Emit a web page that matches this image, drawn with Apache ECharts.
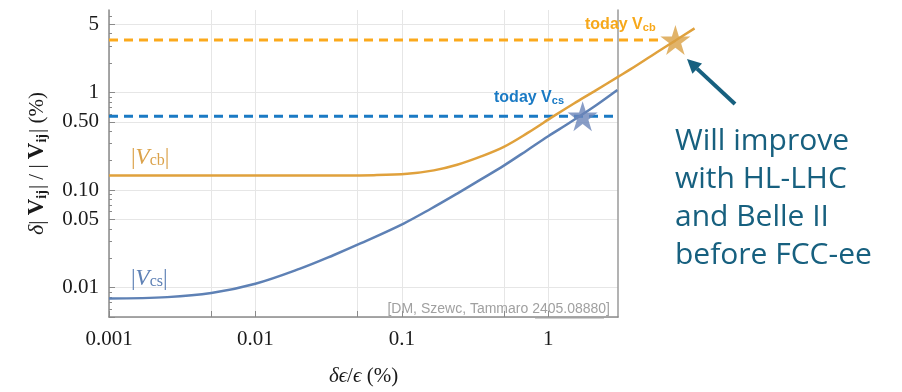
<!DOCTYPE html>
<html>
<head>
<meta charset="utf-8">
<script src="https://cdn.jsdelivr.net/npm/echarts@6/dist/echarts.min.js"></script>
<style>
html,body{margin:0;padding:0;background:#fff;}
#chart{width:902px;height:392px;}
</style>
</head>
<body>
<div id="chart"></div>
<script>
// ---- data ----
const vcbX = [0.001, 0.003, 0.01, 0.02, 0.038, 0.0644, 0.109, 0.1655, 0.239, 0.345, 0.498, 0.72, 1.09, 1.5, 2.05, 3.0, 3.66, 5.5, 7.4, 10];
const vcbY = [0.152, 0.152, 0.152, 0.152, 0.152, 0.153, 0.158, 0.171, 0.195, 0.235, 0.295, 0.405, 0.60, 0.805, 1.06, 1.49, 1.78, 2.62, 3.45, 4.58];
const vcsX = [0.001, 0.0025, 0.005, 0.01, 0.0202, 0.0341, 0.0522, 0.103, 0.157, 0.239, 0.345, 0.498, 0.72, 1.0, 1.35, 1.75, 2.2, 2.97];
const vcsY = [0.0088, 0.0091, 0.0100, 0.0124, 0.0176, 0.024, 0.0315, 0.050, 0.070, 0.100, 0.138, 0.191, 0.273, 0.377, 0.497, 0.637, 0.80, 1.1];
const todayVcbX = [0.001, 5.9];
const todayVcbY = [3.5, 3.5];
const todayVcsX = [0.001, 3.0];
const todayVcsY = [0.6, 0.6];
const starVcb = [7.4, 3.5];
const starVcs = [1.72, 0.6];
const xMajorTicks = [0.001, 0.005, 0.01, 0.05, 0.1, 0.5, 1];
const xTickLabels = [0.001, 0.01, 0.1, 1];
const yMajorTicks = [0.005, 0.01, 0.05, 0.1, 0.5, 1, 5];
const yTickLabels = [0.01, 0.05, 0.1, 0.5, 1, 5];
const yMinorTicks = [0.006, 0.007, 0.008, 0.009, 0.02, 0.03, 0.04, 0.06, 0.07, 0.08, 0.09, 0.2, 0.3, 0.4, 0.6, 0.7, 0.8, 0.9, 2, 3, 4, 6];

const pairs = (xs, ys) => xs.map((x, i) => [x, ys[i]]);

const STAR = 'path://M50,0 L61.2,34.5 L97.6,34.5 L68.2,55.9 L79.4,90.5 L50,69.1 L20.6,90.5 L31.8,55.9 L2.4,34.5 L38.8,34.5 Z';
const SERIF = '"Liberation Serif", "DejaVu Serif", serif';
const SANS = '"Liberation Sans", Arial, sans-serif';

// main frame geometry: x range [0.001, 3] in grid 0; grid 1 is a wider overlay (x up to 20) with the same scale
const GL = 109, GT = 10, GB = 69, GR = 284;
const X0 = 0.001, X1 = 3, X2 = 20;
const plotW = 902 - GL - GR;
const decade = plotW / Math.log10(X1 / X0);
const wideR = 902 - GL - decade * Math.log10(X2 / X0);

const chart = echarts.init(document.getElementById('chart'), null, {renderer: 'canvas'});

const fmtY = v => {
  const r = Number(v.toPrecision(3));
  return r >= 1 ? String(Math.round(r)) : r.toFixed(2);
};
const fmtX = v => String(Number(v.toPrecision(3)));

const option = {
  animation: false,
  backgroundColor: '#ffffff',
  grid: [
    {left: GL, right: GR, top: GT, bottom: GB, containLabel: false},
    {left: GL, right: wideR, top: GT, bottom: GB, containLabel: false}
  ],
  xAxis: [{
    gridIndex: 0, type: 'log', logBase: 10, min: X0, max: X1,
    axisLine: {show: true, onZero: false, lineStyle: {color: '#8a8a8a', width: 1.5}},
    axisTick: {show: true, inside: true, length: 6, customValues: xMajorTicks, lineStyle: {color: '#8a8a8a'}},
    axisLabel: {customValues: xTickLabels, formatter: fmtX, fontFamily: SERIF, fontSize: 21, color: '#1a1a1a', margin: 12},
    splitLine: {show: true, lineStyle: {color: '#e6e6e6', width: 1}},
    name: '{d|δϵ}{n|/}{d|ϵ}{n| (%)}',
    nameLocation: 'middle', nameGap: 49,
    nameTextStyle: {
      fontFamily: SERIF, fontSize: 21, color: '#1a1a1a',
      rich: {d: {fontFamily: SERIF, fontSize: 21, fontStyle: 'italic', color: '#1a1a1a'},
             n: {fontFamily: SERIF, fontSize: 21, color: '#1a1a1a'}}
    }
  }, {
    gridIndex: 1, type: 'log', logBase: 10, min: X0, max: X2, show: false
  }],
  yAxis: [{
    gridIndex: 0, type: 'log', logBase: 10, min: 0.005, max: 7, position: 'left',
    axisLine: {show: true, onZero: false, lineStyle: {color: '#8a8a8a', width: 1.5}},
    axisTick: {show: true, inside: true, length: 6, customValues: yMajorTicks, lineStyle: {color: '#8a8a8a'}},
    axisLabel: {customValues: yTickLabels, formatter: fmtY, fontFamily: SERIF, fontSize: 21, color: '#1a1a1a', margin: 10},
    splitLine: {show: true, lineStyle: {color: '#e6e6e6', width: 1}},
    name: '{d|δ}{n|| }{v|V}{s|ij}{n|| / | }{v|V}{s|ij}{n|| (%)}',
    nameLocation: 'middle', nameGap: 60, nameRotate: 90,
    nameTextStyle: {
      fontFamily: SERIF, fontSize: 21, color: '#1a1a1a',
      rich: {d: {fontFamily: SERIF, fontSize: 22, fontStyle: 'italic', color: '#1a1a1a'},
             n: {fontFamily: SERIF, fontSize: 21, color: '#1a1a1a'},
             v: {fontFamily: SERIF, fontSize: 23, fontWeight: 'bold', color: '#1a1a1a'},
             s: {fontFamily: SERIF, fontSize: 14, fontWeight: 'bold', color: '#1a1a1a', verticalAlign: 'bottom', padding: [0, 1, 0, 0]}}
    }
  }, {
    gridIndex: 0, type: 'log', logBase: 10, min: 0.005, max: 7, position: 'left',
    axisLine: {show: false},
    axisTick: {show: true, inside: true, length: 3, customValues: yMinorTicks, lineStyle: {color: '#8a8a8a'}},
    axisLabel: {show: false},
    splitLine: {show: false}
  }, {
    gridIndex: 0, type: 'log', logBase: 10, min: 0.005, max: 7, position: 'right',
    axisLine: {show: true, onZero: false, lineStyle: {color: '#9a9a9a', width: 1.5}},
    axisTick: {show: false},
    axisLabel: {show: false},
    splitLine: {show: false}
  }, {
    gridIndex: 1, type: 'log', logBase: 10, min: 0.005, max: 7, show: false
  }],
  series: [
    {
      name: 'today Vcb', type: 'line', xAxisIndex: 1, yAxisIndex: 3, data: pairs(todayVcbX, todayVcbY),
      showSymbol: false, symbol: 'none', silent: true,
      lineStyle: {color: '#fba91c', width: 3, type: [9, 6]}, z: 3
    },
    {
      name: 'today Vcs', type: 'line', xAxisIndex: 1, yAxisIndex: 3, data: pairs(todayVcsX, todayVcsY),
      showSymbol: false, symbol: 'none', silent: true,
      lineStyle: {color: '#1a7ac4', width: 3, type: [9, 6]}, z: 3
    },
    {
      name: '|Vcb|', type: 'line', xAxisIndex: 1, yAxisIndex: 3, data: pairs(vcbX, vcbY),
      smooth: 0.35,
      showSymbol: false, symbol: 'none', silent: true,
      lineStyle: {color: '#e0a13c', width: 2.5}, z: 4
    },
    {
      name: '|Vcs|', type: 'line', xAxisIndex: 1, yAxisIndex: 3, data: pairs(vcsX, vcsY),
      smooth: 0.35,
      showSymbol: false, symbol: 'none', silent: true,
      lineStyle: {color: '#5e81b5', width: 2.5}, z: 4
    },
    {
      name: 'stars', type: 'scatter', xAxisIndex: 1, yAxisIndex: 3, silent: true, z: 6,
      data: [
        {value: starVcb, symbolSize: 30, itemStyle: {color: '#d9a043'}},
        {value: starVcs, symbolSize: 30, itemStyle: {color: '#6a84b9'}}
      ],
      symbol: STAR
    }
  ],
  graphic: [
    {type: 'text', left: 131, top: 146, z: 10, style: {
      text: '{b||}{v|V}{s|cb}{b||}', fill: '#dba24a',
      rich: {b: {fontFamily: SERIF, fontSize: 23, fill: '#dba24a'},
             v: {fontFamily: SERIF, fontSize: 23, fontStyle: 'italic', fill: '#dba24a'},
             s: {fontFamily: SERIF, fontSize: 16, fill: '#dba24a', verticalAlign: 'bottom'}}
    }},
    {type: 'text', left: 131, top: 267, z: 10, style: {
      text: '{b||}{v|V}{s|cs}{b||}', fill: '#5e81b5',
      rich: {b: {fontFamily: SERIF, fontSize: 23, fill: '#5e81b5'},
             v: {fontFamily: SERIF, fontSize: 23, fontStyle: 'italic', fill: '#5e81b5'},
             s: {fontFamily: SERIF, fontSize: 16, fill: '#5e81b5', verticalAlign: 'bottom'}}
    }},
    {type: 'text', left: 585, top: 17, z: 10, style: {
      text: '{t|today V}{s|cb}', fill: '#f7a81a',
      rich: {t: {fontFamily: SANS, fontSize: 16, fontWeight: 'bold', fill: '#f7a81a'},
             s: {fontFamily: SANS, fontSize: 11, fontWeight: 'bold', fill: '#f7a81a', verticalAlign: 'bottom'}}
    }},
    {type: 'text', left: 494, top: 90, z: 10, style: {
      text: '{t|today V}{s|cs}', fill: '#1a7ac4',
      rich: {t: {fontFamily: SANS, fontSize: 16, fontWeight: 'bold', fill: '#1a7ac4'},
             s: {fontFamily: SANS, fontSize: 11, fontWeight: 'bold', fill: '#1a7ac4', verticalAlign: 'bottom'}}
    }},
    {type: 'text', right: 292, top: 302, z: 10, style: {
      text: '[DM, Szewc, Tammaro 2405.08880]', fill: '#a0a0a0',
      fontFamily: SANS, fontSize: 14, fontWeight: 300
    }},
    {type: 'line', z: 10, shape: {x1: 535, y1: 318, x2: 604, y2: 318}, style: {stroke: '#a0a0a0', lineWidth: 1}},
    {type: 'text', left: 675, top: 122, z: 10, style: {
      text: 'Will improve\nwith HL-LHC\nand Belle II\nbefore FCC-ee',
      fill: '#17607f', fontFamily: '"Open Sans", sans-serif', fontSize: 30, lineHeight: 38
    }},
    {type: 'line', z: 10, shape: {x1: 735, y1: 104, x2: 697, y2: 68.6}, style: {stroke: '#17607f', lineWidth: 4}},
    {type: 'polygon', z: 10, shape: {points: [[687, 59], [702, 63.5], [692.4, 73.7]]}, style: {fill: '#17607f'}}
  ]
};
chart.setOption(option);
</script>
</body>
</html>
